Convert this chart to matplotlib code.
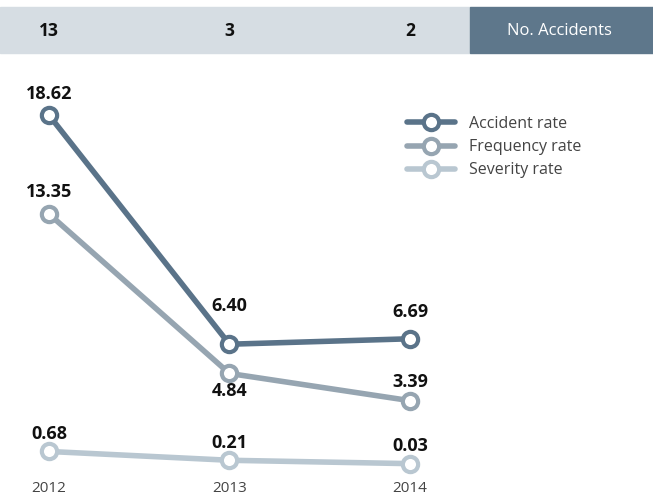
import matplotlib.pyplot as plt
from matplotlib.patches import Rectangle
import matplotlib.transforms as mtransforms

# data
years = ['2012', '2013', '2014']
accidents = [13, 3, 2]
accident_rate = [18.62, 6.40, 6.69]
frequency_rate = [13.35, 4.84, 3.39]
severity_rate = [0.68, 0.21, 0.03]

c_acc = '#5a7389'
c_freq = '#96a5b1'
c_sev = '#b9c7d1'

plt.rcParams['font.family'] = ['Open Sans', 'DejaVu Sans']

W, H = 653, 497
fig = plt.figure(figsize=(W / 100, H / 100), dpi=100)
ax = fig.add_axes([0, 0, 1, 1])
ax.set_xlim(-0.271, 3.346)
ax.set_ylim(-1.749, 24.76)
ax.axis('off')

# header band
fig.patches.append(Rectangle((0, 1 - 53 / H), 470 / W, 46 / H, transform=fig.transFigure,
                             color='#d6dde3', zorder=-1))
fig.patches.append(Rectangle((470 / W, 1 - 53 / H), 1 - 470 / W, 46 / H, transform=fig.transFigure,
                             color='#5e778b', zorder=-1))
tr = mtransforms.blended_transform_factory(ax.transData, fig.transFigure)
for i, n in enumerate(accidents):
    ax.text(i, 1 - 31 / H, str(n), transform=tr, ha='center', va='center',
            fontsize=12.5, fontweight='bold', color='#111111')
fig.text(559 / W, 1 - 31 / H, 'No. Accidents', ha='center', va='center',
         fontsize=12, color='white')

x = range(len(years))
style = dict(lw=4, marker='o', ms=11, mfc='white', mew=3, solid_capstyle='round')
ax.plot(x, severity_rate, color=c_sev, label='Severity rate', **style)
ax.plot(x, frequency_rate, color=c_freq, label='Frequency rate', **style)
ax.plot(x, accident_rate, color=c_acc, label='Accident rate', **style)

lab = dict(ha='center', fontsize=13, fontweight='bold', color='#111111')
# label offsets in points
offs = {
    'acc': [9, 21, 13],
    'freq': [9, -6, 7],
    'sev': [6, 6, 6],
}
for key, vals in (('acc', accident_rate), ('freq', frequency_rate), ('sev', severity_rate)):
    for i, v in enumerate(vals):
        dy = offs[key][i]
        ax.annotate(f'{v:.2f}', (i, v), xytext=(0, dy), textcoords='offset points',
                    va='bottom' if dy > 0 else 'top', **lab)

for i, yr in enumerate(years):
    ax.text(i, 1 - 488 / H, yr, transform=tr, ha='center', va='center',
            fontsize=11, color='#444444')

h, l = ax.get_legend_handles_labels()
leg = ax.legend(h[::-1], l[::-1], loc='upper left', bbox_to_anchor=(407 / W, 1 - 116 / H),
                frameon=False, fontsize=11.5, handlelength=3.0, labelspacing=0.45,
                handletextpad=0.9, borderaxespad=0, borderpad=0)
for t in leg.get_texts():
    t.set_color('#444444')

fig.savefig('out.png', dpi=100)
